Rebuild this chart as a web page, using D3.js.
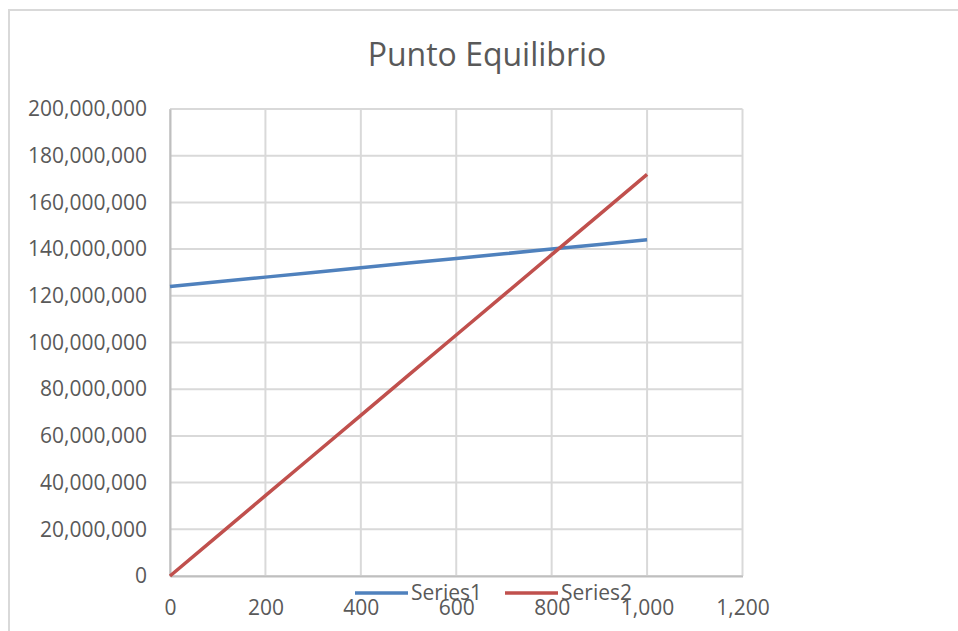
<!DOCTYPE html>
<html>
<head>
<meta charset="utf-8">
<script src="https://cdn.jsdelivr.net/npm/d3@7"></script>
<style>
  body { margin: 0; background: #fff; }
  svg text { font-family: "Open Sans", "Liberation Sans", sans-serif; fill: #595959; }
</style>
</head>
<body>
<div id="chart"></div>
<script>
'use strict';

// Data
const units = [0, 100, 200, 300, 400, 500, 600, 700, 800, 900, 1000];
const series1 = [124000000, 126000000, 128000000, 130000000, 132000000, 134000000,
                 136000000, 138000000, 140000000, 142000000, 144000000];
const series2 = [0, 17200000, 34400000, 51600000, 68800000, 86000000,
                 103200000, 120400000, 137600000, 154800000, 172000000];
const seriesNames = ['Series1', 'Series2'];
const seriesColors = ['#4F81BD', '#C0504D'];
const xTicks = [0, 200, 400, 600, 800, 1000, 1200];
const yTicks = [0, 20000000, 40000000, 60000000, 80000000, 100000000,
                120000000, 140000000, 160000000, 180000000, 200000000];

const W = 958, H = 631;
const margin = { top: 109, right: 215.5, bottom: 55, left: 170 };
const width = W - margin.left - margin.right;
const height = H - margin.top - margin.bottom;

const root = d3.select('#chart').append('svg')
  .attr('width', W)
  .attr('height', H);

// chart area border (runs off the right and bottom edge)
root.append('rect')
  .attr('x', 9).attr('y', 10)
  .attr('width', W + 20).attr('height', H + 20)
  .attr('fill', 'none')
  .attr('stroke', '#D9D9D9')
  .attr('stroke-width', 2);

root.append('text')
  .attr('x', 487)
  .attr('y', 66)
  .attr('text-anchor', 'middle')
  .style('font-size', '32px')
  .text('Punto Equilibrio');

const svg = root.append('g')
  .attr('transform', `translate(${margin.left},${margin.top})`);

const x = d3.scaleLinear().domain([0, 1200]).range([0, width]);
const y = d3.scaleLinear().domain([0, 200000000]).range([height, 0]);
const fmt = d3.format(',');

// gridlines
svg.append('g')
  .selectAll('line.hgrid')
  .data(yTicks)
  .join('line')
  .attr('class', 'hgrid')
  .attr('x1', 0).attr('x2', width)
  .attr('y1', d => y(d)).attr('y2', d => y(d))
  .attr('stroke', '#D9D9D9')
  .attr('stroke-width', 2);

svg.append('g')
  .selectAll('line.vgrid')
  .data(xTicks)
  .join('line')
  .attr('class', 'vgrid')
  .attr('x1', d => x(d)).attr('x2', d => x(d))
  .attr('y1', 0).attr('y2', height)
  .attr('stroke', '#D9D9D9')
  .attr('stroke-width', 2);

// axes
const xAxis = g => g
  .attr('transform', `translate(0,${height})`)
  .call(d3.axisBottom(x).tickValues(xTicks).tickFormat(fmt).tickSize(0).tickPadding(24))
  .call(g => g.select('.domain').attr('stroke', '#BFBFBF').attr('stroke-width', 2))
  .call(g => g.selectAll('text').style('font-size', '21px').attr('fill', '#595959'));

const yAxis = g => g
  .call(d3.axisLeft(y).tickValues(yTicks).tickFormat(fmt).tickSize(0).tickPadding(23))
  .call(g => g.select('.domain').attr('stroke', '#BFBFBF').attr('stroke-width', 2))
  .call(g => g.selectAll('text').style('font-size', '21px').attr('fill', '#595959'));

svg.append('g').call(xAxis);
svg.append('g').call(yAxis);

// series lines
const line = d3.line()
  .x((d, i) => x(units[i]))
  .y(d => y(d));

[series1, series2].forEach((s, i) => {
  svg.append('path')
    .datum(s)
    .attr('fill', 'none')
    .attr('stroke', seriesColors[i])
    .attr('stroke-width', 3.5)
    .attr('d', line);
});

// legend (overlaps the x tick labels, as in the original)
const legendX = [355, 505];
const legend = root.append('g');
seriesNames.forEach((name, i) => {
  legend.append('line')
    .attr('x1', legendX[i]).attr('x2', legendX[i] + 53)
    .attr('y1', 593).attr('y2', 593)
    .attr('stroke', seriesColors[i])
    .attr('stroke-width', 3.5);
  legend.append('text')
    .attr('x', legendX[i] + 56)
    .attr('y', 600)
    .style('font-size', '21px')
    .text(name);
});
</script>
</body>
</html>
